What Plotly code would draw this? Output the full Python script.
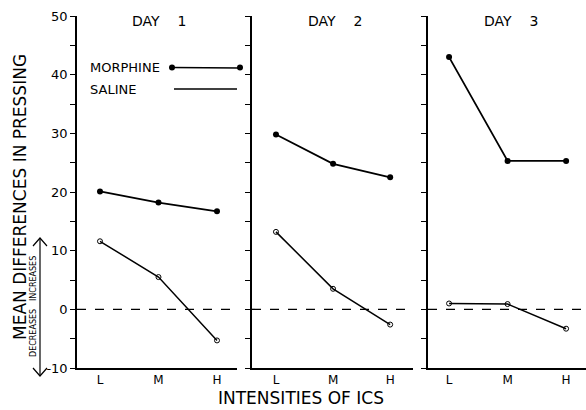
import plotly.graph_objects as go

# ---------------- data ----------------
intensities = ["L", "M", "H"]
days = ["DAY\u00a0\u00a0\u00a0\u00a01", "DAY\u00a0\u00a0\u00a0\u00a02", "DAY\u00a0\u00a0\u00a0\u00a03"]
morphine_day1 = [20.1, 18.2, 16.7]
morphine_day2 = [29.8, 24.8, 22.5]
morphine_day3 = [43.0, 25.3, 25.3]
saline_day1 = [11.6, 5.5, -5.3]
saline_day2 = [13.2, 3.5, -2.6]
saline_day3 = [1.0, 0.9, -3.3]
y_tick_values = list(range(-10, 55, 5))
y_tick_labels = [str(v) if v % 10 == 0 else "" for v in y_tick_values]

morphine = [morphine_day1, morphine_day2, morphine_day3]
saline = [saline_day1, saline_day2, saline_day3]

# ---------------- layout helpers (pixel -> paper) ----------------
W, H = 586, 410
ML, MR, MT, MB = 77, 0, 16, 42
PW, PH = W - ML - MR, H - MT - MB


def pxx(p):
    return (p - ML) / PW


def pxy(p):
    return (H - MB - p) / PH


FONT = "DejaVu Sans"
domains = [[0, pxx(237)], [pxx(252), pxx(413)], [pxx(428), 1.0]]
xranges = [[-0.393, 2.342], [-0.42, 2.40], [-0.36, 2.34]]

fig = go.Figure()

for i in range(3):
    xa = "x" if i == 0 else f"x{i+1}"
    ya = "y" if i == 0 else f"y{i+1}"
    fig.add_trace(go.Scatter(
        x=intensities, y=morphine[i], xaxis=xa, yaxis=ya, mode="lines+markers",
        line=dict(color="black", width=1.8),
        marker=dict(symbol="circle", size=6, color="black"),
        showlegend=False, hoverinfo="skip"))
    fig.add_trace(go.Scatter(
        x=intensities, y=saline[i], xaxis=xa, yaxis=ya, mode="lines+markers",
        line=dict(color="black", width=1.5),
        marker=dict(symbol="circle-open", size=5, color="black", line=dict(width=1)),
        showlegend=False, hoverinfo="skip"))

layout = dict(
    width=W, height=H,
    margin=dict(l=ML, r=MR, t=MT, b=MB, autoexpand=False),
    paper_bgcolor="white", plot_bgcolor="white",
    font=dict(family=FONT, color="black"),
    showlegend=False,
)

for i in range(3):
    xk = "xaxis" if i == 0 else f"xaxis{i+1}"
    yk = "yaxis" if i == 0 else f"yaxis{i+1}"
    ya = "y" if i == 0 else f"y{i+1}"
    xa = "x" if i == 0 else f"x{i+1}"
    layout[xk] = dict(
        domain=domains[i], anchor=ya, type="category",
        categoryorder="array", categoryarray=intensities,
        range=xranges[i], showgrid=False, zeroline=False,
        showline=True, linecolor="black", linewidth=1.5,
        ticks="", tickfont=dict(size=12, family=FONT), automargin=False,
    )
    layout[yk] = dict(
        domain=[0, 1], anchor=xa, range=[-10, 50],
        showgrid=False, zeroline=False,
        showline=True, linecolor="black", linewidth=1.5,
        ticks="outside", ticklen=5, tickwidth=1.2, tickcolor="black",
        tickmode="array", tickvals=y_tick_values,
        ticktext=y_tick_labels if i == 0 else [""] * len(y_tick_values),
        showticklabels=(i == 0), automargin=False,
        tickfont=dict(size=13, family=FONT),
    )

fig.update_layout(**layout)

shapes = []
annotations = []
for i in range(3):
    xa = "x" if i == 0 else f"x{i+1}"
    ya = "y" if i == 0 else f"y{i+1}"
    shapes.append(dict(type="line", xref=f"{xa} domain", yref=ya,
                       x0=0, x1=1, y0=0, y1=0,
                       line=dict(color="black", width=1.3, dash="dash")))
    annotations.append(dict(text=days[i], xref="paper", yref="paper",
                            x=pxx([159, 335, 511][i]), y=pxy(21), showarrow=False,
                            font=dict(size=14, family=FONT), xanchor="center",
                            yanchor="middle"))

# legend drawn inside panel 1
annotations.append(dict(text="MORPHINE", xref="paper", yref="paper", x=pxx(88), y=pxy(67),
                        xanchor="left", yanchor="middle", showarrow=False,
                        font=dict(size=13, family=FONT)))
annotations.append(dict(text="SALINE", xref="paper", yref="paper", x=pxx(88), y=pxy(89),
                        xanchor="left", yanchor="middle", showarrow=False,
                        font=dict(size=13, family=FONT)))
shapes.append(dict(type="line", xref="paper", yref="paper", x0=pxx(172), x1=pxx(240),
                   y0=pxy(67.5), y1=pxy(68), line=dict(color="black", width=1.5)))
for cx in (172, 240):
    shapes.append(dict(type="circle", xref="paper", yref="paper",
                       x0=pxx(cx - 3), x1=pxx(cx + 3), y0=pxy(67.5 + 3), y1=pxy(67.5 - 3),
                       fillcolor="black", line=dict(color="black", width=0)))
shapes.append(dict(type="line", xref="paper", yref="paper", x0=pxx(174), x1=pxx(237),
                   y0=pxy(89), y1=pxy(89), line=dict(color="black", width=1.3)))

# axis titles
annotations.append(dict(text="MEAN DIFFERENCES IN PRESSING", xref="paper", yref="paper",
                        x=pxx(20), y=pxy(197), textangle=-90, showarrow=False,
                        xanchor="center", yanchor="middle",
                        font=dict(size=17, family=FONT)))
annotations.append(dict(text="INTENSITIES OF ICS", xref="paper", yref="paper",
                        x=pxx(301), y=pxy(398), showarrow=False,
                        xanchor="center", yanchor="middle",
                        font=dict(size=17, family=FONT)))

# increases / decreases arrow
annotations.append(dict(text="INCREASES", xref="paper", yref="paper",
                        x=pxx(33), y=pxy(279), textangle=-90, showarrow=False,
                        xanchor="center", yanchor="middle", font=dict(size=8, family=FONT)))
annotations.append(dict(text="DECREASES", xref="paper", yref="paper",
                        x=pxx(33), y=pxy(333), textangle=-90, showarrow=False,
                        xanchor="center", yanchor="middle", font=dict(size=8, family=FONT)))
shapes.append(dict(type="line", xref="paper", yref="paper", x0=pxx(40), x1=pxx(40),
                   y0=pxy(238), y1=pxy(376), line=dict(color="black", width=1.2)))
top = f"M {pxx(33)} {pxy(246)} L {pxx(40)} {pxy(238)} L {pxx(47)} {pxy(246)}"
bot = f"M {pxx(33)} {pxy(368)} L {pxx(40)} {pxy(376)} L {pxx(47)} {pxy(368)}"
for pth in (top, bot):
    shapes.append(dict(type="path", xref="paper", yref="paper", path=pth,
                       line=dict(color="black", width=1.2)))

fig.update_layout(shapes=shapes, annotations=annotations)
fig.write_html("out.html", config={"displayModeBar": False},
               post_script="document.body.style.margin='0';")
